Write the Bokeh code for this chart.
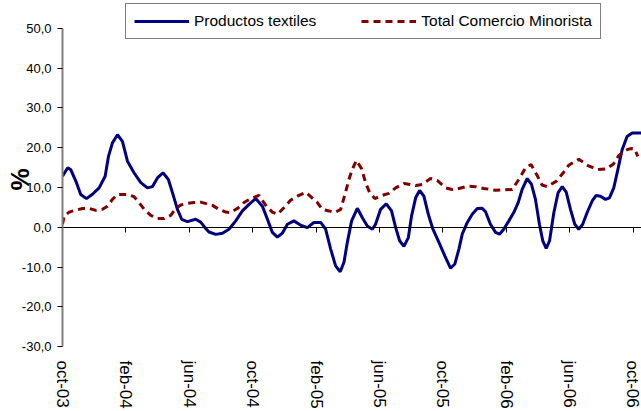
import math
from bokeh.plotting import figure
from bokeh.models import (Range1d, FixedTicker, LinearAxis, Legend, LegendItem)
from bokeh.embed import file_html
from bokeh.resources import INLINE

# months since oct-03
x_ticks = [0, 4, 8, 12, 16, 20, 24, 28, 32, 36]
x_labels = ["oct-03", "feb-04", "jun-04", "oct-04", "feb-05", "jun-05",
            "oct-05", "feb-06", "jun-06", "oct-06"]
y_ticks = [-30, -20, -10, 0, 10, 20, 30, 40, 50]
y_labels = ["-30,0", "-20,0", "-10,0", "0,0", "10,0", "20,0", "30,0", "40,0", "50,0"]

textil_month = [0.00, 0.32, 0.52, 0.84, 1.15, 1.51, 1.89, 2.31, 2.69, 2.90, 3.15, 3.47,
                3.78, 4.10, 4.51, 4.94, 5.36, 5.67, 5.99, 6.34, 6.68, 6.97, 7.25, 7.52,
                7.88, 8.40, 8.72, 8.99, 9.24, 9.67, 10.09, 10.50, 10.93, 11.35, 11.77,
                12.19, 12.61, 12.93, 13.24, 13.56, 13.87, 14.19, 14.60, 15.03, 15.45,
                15.86, 16.29, 16.60, 16.92, 17.23, 17.52, 17.76, 17.97, 18.24, 18.60,
                18.92, 19.23, 19.55, 19.75, 20.07, 20.43, 20.76, 21.02, 21.27, 21.54,
                21.82, 22.02, 22.28, 22.53, 22.80, 23.08, 23.37, 23.75, 24.12, 24.48,
                24.75, 25.01, 25.22, 25.54, 25.85, 26.17, 26.48, 26.69, 27.00, 27.32,
                27.57, 27.84, 28.16, 28.47, 28.75, 29.00, 29.32, 29.59, 29.84, 30.09,
                30.30, 30.52, 30.73, 31.00, 31.27, 31.53, 31.78, 32.05, 32.32, 32.57,
                32.82, 33.10, 33.42, 33.67, 33.94, 34.26, 34.51, 34.78, 35.06, 35.31,
                35.62, 35.94, 36.53]
textil_value = [12.8, 14.9, 14.5, 11.6, 8.25, 7.2, 8.3, 9.9, 12.8, 17.8, 21.2, 23.25,
                21.6, 16.6, 13.7, 11.2, 9.9, 10.2, 12.4, 13.7, 12.0, 8.25, 4.5, 2.0,
                1.4, 2.0, 1.3, -0.1, -1.2, -1.8, -1.5, -0.5, 1.6, 4.1, 5.75,
                7.2, 5.3, 2.0, -1.3, -2.5, -1.5, 0.75, 1.6, 0.5, -0.1,
                1.2, 1.2, -0.5, -5.5, -9.7, -11.2, -8.8, -3.8, 1.6, 4.75,
                2.4, 0.3, -0.5, 0.75, 4.5, 5.9, 4.1, -0.1, -3.4, -4.8,
                -2.6, 2.8, 7.4, 9.25, 7.8, 3.25, -0.5, -3.8, -7.2, -10.3,
                -9.25, -5.5, -1.75, 1.2, 3.25, 4.7, 4.75, 3.9, 0.75, -1.3,
                -1.75, -0.5, 1.6, 3.7, 6.2, 9.5, 12.25, 10.75, 7.0, 0.75,
                -3.4, -5.3, -3.4, 3.7, 8.7, 10.2, 8.8, 4.5, 0.75, -0.5,
                0.75, 3.7, 6.6, 8.0, 7.8, 7.0, 7.4, 9.9, 14.9, 19.5,
                22.8, 23.7, 23.7]

total_month = [0.00, 0.10, 0.42, 0.84, 1.26, 1.68, 2.10, 2.52, 2.84, 3.15, 3.47, 3.78,
               4.10, 4.51, 4.83, 5.15, 5.57, 5.99, 6.41, 6.83, 7.14, 7.46, 7.88, 8.30,
               8.72, 9.46, 9.87, 10.30, 10.61, 11.03, 11.45, 11.87, 12.40, 12.86, 13.24,
               13.56, 13.97, 14.39, 14.82, 15.34, 15.66, 16.08, 16.39, 16.81, 17.19,
               17.55, 17.82, 18.07, 18.28, 18.54, 18.87, 19.12, 19.38, 19.71, 20.18,
               20.59, 21.02, 21.54, 22.28, 22.70, 23.22, 23.64, 24.17, 24.59, 25.01,
               25.54, 26.06, 26.58, 27.32, 28.37, 28.79, 29.21, 29.56, 29.95, 30.26,
               30.58, 31.17, 31.63, 31.94, 32.57, 33.15, 33.78, 34.32, 34.76, 35.09,
               35.31, 35.62, 35.90, 36.09, 36.30]
total_value = [0.75, 2.8, 3.8, 4.3, 4.7, 4.75, 4.25, 4.5, 5.3, 7.0, 8.25, 8.25,
               8.25, 7.7, 6.2, 4.5, 3.0, 2.2, 2.2, 3.0, 4.7, 5.6, 6.0, 6.2,
               6.3, 5.5, 4.5, 3.8, 3.7, 4.7, 6.2, 7.2, 8.0, 5.3, 3.8,
               3.25, 4.9, 6.8, 7.8, 8.8, 7.7, 6.2, 4.5, 4.1, 3.7,
               4.5, 8.25, 12.0, 14.5, 16.8, 14.7, 11.2, 8.7, 7.2, 8.0,
               8.5, 9.9, 11.0, 10.5, 10.75, 12.25, 11.75, 9.9, 9.5, 9.75,
               10.3, 10.2, 9.75, 9.3, 9.5, 12.0, 14.9, 15.75, 13.0, 10.6,
               10.2, 11.6, 13.9, 15.6, 17.1, 15.5, 14.5, 14.7, 15.9, 18.0,
               18.7, 19.5, 19.8, 19.7, 17.8]

FONT = "Liberation Sans"

p = figure(width=641, height=411, output_backend="svg", toolbar_location=None,
           x_range=Range1d(0, 36.53), y_range=Range1d(-33, 57),
           min_border_left=62, min_border_right=0, min_border_top=0, min_border_bottom=51,
           x_axis_location=None, y_axis_location=None)
p.outline_line_color = None
p.grid.visible = False
p.background_fill_color = "white"
p.border_fill_color = "white"

# left value axis
yaxis = LinearAxis(ticker=FixedTicker(ticks=y_ticks), bounds=(-30, 50),
                   major_label_overrides=dict(zip(y_ticks, y_labels)),
                   axis_line_color="#808080", axis_line_width=2,
                   major_tick_out=5, major_tick_in=0, minor_tick_out=0, minor_tick_in=0,
                   major_tick_line_color="black", major_label_standoff=6,
                   major_label_text_font=FONT, major_label_text_font_size="13px",
                   major_label_text_color="black",
                   axis_label="%", axis_label_standoff=-15,
                   axis_label_text_font=FONT, axis_label_text_font_style="bold",
                   axis_label_text_font_size="25px", axis_label_text_color="black")
p.add_layout(yaxis, "left")

# category axis line crossing at zero
zaxis = LinearAxis(ticker=FixedTicker(ticks=x_ticks), fixed_location=0,
                   major_label_overrides={t: "" for t in x_ticks},
                   axis_line_color="black", axis_line_width=1,
                   major_tick_out=5, major_tick_in=0, minor_tick_out=0, minor_tick_in=0,
                   major_tick_line_color="black", major_label_text_font_size="1px")
p.add_layout(zaxis, "below")

# labels at the bottom
xaxis = LinearAxis(ticker=FixedTicker(ticks=x_ticks),
                   major_label_overrides=dict(zip(x_ticks, x_labels)),
                   axis_line_color=None, major_tick_line_color=None,
                   minor_tick_line_color=None, major_tick_out=0, major_tick_in=0,
                   minor_tick_out=0, minor_tick_in=0,
                   major_label_orientation="vertical", major_label_standoff=2,
                   major_label_text_font=FONT, major_label_text_font_size="17px",
                   major_label_text_color="black")
p.add_layout(xaxis, "below")

r1 = p.line(textil_month, textil_value, line_color="#000080", line_width=3)
r2 = p.line(total_month, total_value, line_color="#800000", line_width=3, line_dash="7 5")

legend = Legend(items=[LegendItem(label="Productos textiles", renderers=[r1]),
                       LegendItem(label="Total Comercio Minorista", renderers=[r2])],
                orientation="horizontal", location=(63, 319),
                glyph_width=55, glyph_height=18, label_height=18, label_standoff=5,
                spacing=45, padding=8, margin=0,
                border_line_color="black", border_line_width=1,
                background_fill_color="white", background_fill_alpha=1,
                label_text_font=FONT, label_text_font_size="15.5px",
                label_text_color="black")
p.add_layout(legend, "center")

open("out.html", "w").write(file_html(p, INLINE))
